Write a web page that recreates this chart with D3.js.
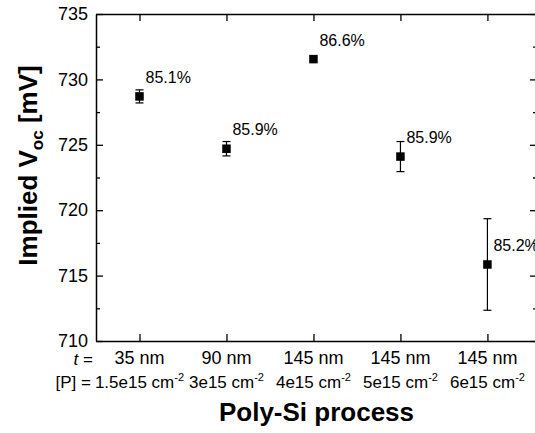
<!DOCTYPE html>
<html>
<head>
<meta charset="utf-8">
<script src="https://cdn.jsdelivr.net/npm/d3@7"></script>
<style>
  html, body { margin: 0; padding: 0; background: #fff; }
  svg { display: block; font-family: "Liberation Sans", Arial, sans-serif; }
</style>
</head>
<body>
<svg id="chart" width="535" height="433"></svg>
<script>
// ---- data ----
const thickness = ["35 nm", "90 nm", "145 nm", "145 nm", "145 nm"];
const dose = ["1.5e15", "3e15", "4e15", "5e15", "6e15"];
const voc = [728.7, 724.7, 731.55, 724.1, 715.85];
const vocErr = [0.5, 0.55, 0, 1.15, 3.5];
const effLabels = ["85.1%", "85.9%", "86.6%", "85.9%", "85.2%"];
const yTicks = [710, 715, 720, 725, 730, 735];
const yMinorTicks = [712.5, 717.5, 722.5, 727.5, 732.5];

(function () {
const svg = d3.select("#chart");
const pLeft = 96, pRight = 537, pTop = 14, pBottom = 341;
const idx = d3.range(1, thickness.length + 1);

const x = d3.scaleLinear().domain([0.5, 5.57]).range([pLeft, pRight]);
const y = d3.scaleLinear().domain([710, 735]).range([pBottom, pTop]);

const axisStyle = g => {
  g.select(".domain").attr("stroke", "#000").attr("stroke-width", 1.5);
  g.selectAll(".tick line").attr("stroke", "#000").attr("stroke-width", 1.3);
};

// left axis
const gL = svg.append("g").attr("transform", `translate(${pLeft},0)`)
  .call(d3.axisLeft(y).tickValues(yTicks).tickSizeInner(-7).tickSizeOuter(0).tickPadding(8).tickFormat(d3.format("d")));
axisStyle(gL);
gL.selectAll(".tick text").attr("font-size", 18).attr("fill", "#000").attr("font-family", "Liberation Sans, Arial, sans-serif");
svg.append("g").attr("transform", `translate(${pLeft},0)`)
  .call(d3.axisLeft(y).tickValues(yMinorTicks).tickSizeInner(-4).tickSizeOuter(0).tickFormat(""))
  .call(g => { g.select(".domain").remove(); g.selectAll(".tick line").attr("stroke", "#000").attr("stroke-width", 1.3); });

// right axis
const gR = svg.append("g").attr("transform", `translate(${pRight},0)`)
  .call(d3.axisRight(y).tickValues(yTicks).tickSizeInner(-7).tickSizeOuter(0).tickFormat(""));
axisStyle(gR);
svg.append("g").attr("transform", `translate(${pRight},0)`)
  .call(d3.axisRight(y).tickValues(yMinorTicks).tickSizeInner(-4).tickSizeOuter(0).tickFormat(""))
  .call(g => { g.select(".domain").remove(); g.selectAll(".tick line").attr("stroke", "#000").attr("stroke-width", 1.3); });

// bottom axis
const gB = svg.append("g").attr("transform", `translate(0,${pBottom})`)
  .call(d3.axisBottom(x).tickValues(idx).tickSizeInner(-7).tickSizeOuter(0).tickFormat(""));
axisStyle(gB);
// top axis
const gT = svg.append("g").attr("transform", `translate(0,${pTop})`)
  .call(d3.axisTop(x).tickValues(idx).tickSizeInner(-7).tickSizeOuter(0).tickFormat(""));
axisStyle(gT);

// category labels, line 1
const lab1 = svg.append("g").attr("font-size", 18).attr("fill", "#000");
lab1.selectAll("text.t").data(thickness).join("text")
  .attr("x", (d, i) => x(i + 1)).attr("y", 364)
  .attr("text-anchor", "middle").text(d => d);
const tl = lab1.append("text").attr("x", 93).attr("y", 365).attr("font-size", 17).attr("text-anchor", "end");
tl.append("tspan").attr("font-style", "italic").text("t");
tl.append("tspan").text(" =");

// category labels, line 2
const lab2 = svg.append("g").attr("font-size", 17).attr("fill", "#000");
lab2.selectAll("text.d").data(dose).join("text")
  .attr("x", (d, i) => x(i + 1)).attr("y", 388)
  .attr("text-anchor", "middle")
  .each(function(d) {
    const t = d3.select(this);
    t.append("tspan").text(d + " cm");
    t.append("tspan").attr("font-size", 11).attr("dy", -7).text("-2");
  });
lab2.append("text").attr("x", 91).attr("y", 388).attr("text-anchor", "end").text("[P] =");

// error bars
const eb = svg.append("g").attr("stroke", "#000").attr("stroke-width", 1.2);
idx.forEach((k, i) => {
  if (vocErr[i] <= 0) return;
  const cx = x(k), y1 = y(voc[i] + vocErr[i]), y2 = y(voc[i] - vocErr[i]);
  eb.append("line").attr("x1", cx).attr("x2", cx).attr("y1", y1).attr("y2", y2);
  eb.append("line").attr("x1", cx - 4).attr("x2", cx + 4).attr("y1", y1).attr("y2", y1);
  eb.append("line").attr("x1", cx - 4).attr("x2", cx + 4).attr("y1", y2).attr("y2", y2);
});

// markers
const s = 8.5;
svg.append("g").selectAll("rect").data(voc).join("rect")
  .attr("x", (d, i) => x(i + 1) - s / 2).attr("y", d => y(d) - s / 2)
  .attr("width", s).attr("height", s).attr("fill", "#000");

// value labels
svg.append("g").attr("font-size", 16).attr("fill", "#000")
  .selectAll("text").data(effLabels).join("text")
  .attr("x", (d, i) => x(i + 1) + 6).attr("y", (d, i) => y(voc[i]) - 13.5)
  .text(d => d);

// axis titles
svg.append("text").attr("x", (pLeft + pRight) / 2).attr("y", 421)
  .attr("text-anchor", "middle").attr("font-size", 26).attr("font-weight", "bold")
  .text("Poly-Si process");

const yt = svg.append("text")
  .attr("transform", `translate(37,${(pTop + pBottom) / 2 - 12}) rotate(-90)`)
  .attr("text-anchor", "middle").attr("font-size", 26).attr("font-weight", "bold");
yt.append("tspan").text("Implied V");
yt.append("tspan").attr("font-size", 17).attr("dy", 6).text("oc");
yt.append("tspan").attr("dy", -6).text(" [mV]");
})();
</script>
</body>
</html>
